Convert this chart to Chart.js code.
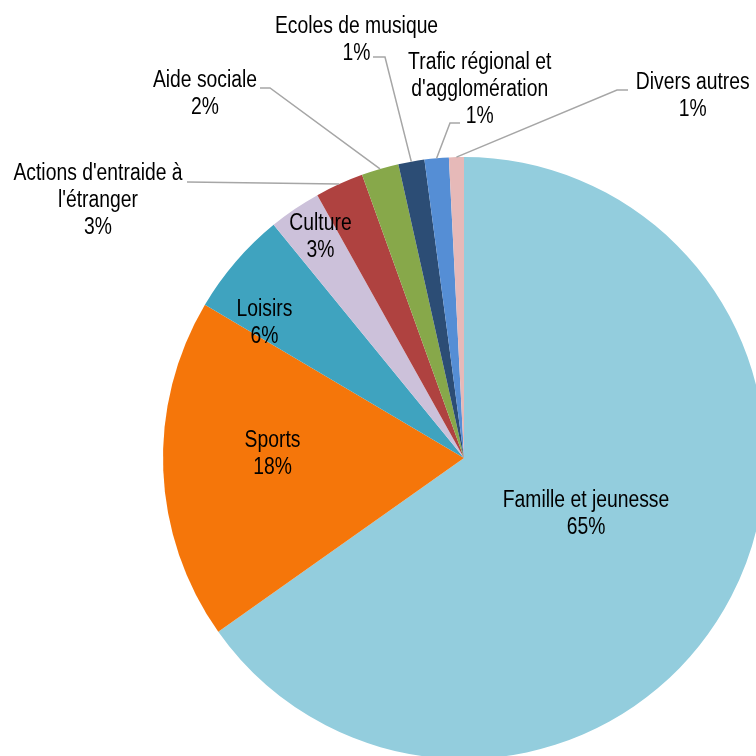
<!DOCTYPE html>
<html><head><meta charset="utf-8">
<script src="https://cdn.jsdelivr.net/npm/chart.js@4"></script>
<style>
html,body{margin:0;padding:0;overflow:hidden;background:#fff;width:756px;height:756px}
#wrap{position:absolute;left:0;top:0;width:800px;height:800px}
</style>
</head><body><div id="wrap"><canvas id="c" width="800" height="800"></canvas></div>
<script>
const categories = ["Famille et jeunesse", "Sports", "Loisirs", "Culture", "Actions d'entraide à\nl'étranger", "Aide sociale", "Ecoles de musique", "Trafic régional et\nd'agglomération", "Divers autres"];
const shares = [65.2, 18.3, 5.6, 2.8, 2.6, 2.0, 1.4, 1.3, 0.8];
const sliceColors = ["#93CDDD", "#F5760A", "#3FA3BF", "#CCC1DA", "#AF4240", "#87A84A", "#2C4D75", "#558ED5", "#E6B9B8"];

// label layout: text block centre (x) and first line middle (y), offsets from pie centre in px
const labelPos = [[122, 43], [-191.5, -17], [-199.5, -148], [-143.5, -234], [-366, -284], [-259, -377], [-107.5, -431], [15.7, -395.5], [228.7, -375.5]];
// leader line points (from label side), offsets from pie centre; ends at slice mid-arc
const leaders = [null, null, null, null, [[-277, -276]], [[-204, -370], [-194, -370]], [[-91, -401], [-79, -401]], [[-4, -335], [-14, -335]], [[164, -368], [153, -368]]];

const FONT = "23px 'Liberation Sans Narrow', 'Arial Narrow', 'Liberation Sans', sans-serif";
const NARROW = 0.84; // horizontal condensing to mimic Arial Narrow
const LINE_H = 27;

const labelPlugin = {
  id: 'labels',
  afterDatasetsDraw(chart) {
    const ctx = chart.ctx;
    const meta = chart.getDatasetMeta(0);
    const total = shares.reduce((a, b) => a + b, 0);
    ctx.save();
    meta.data.forEach((arc, i) => {
      const cx = arc.x, cy = arc.y, R = arc.outerRadius;
      const mid = (arc.startAngle + arc.endAngle) / 2;
      if (leaders[i]) {
        ctx.beginPath();
        ctx.strokeStyle = '#A6A6A6';
        ctx.lineWidth = 1.5;
        leaders[i].forEach((p, k) => {
          if (k === 0) ctx.moveTo(cx + p[0], cy + p[1]); else ctx.lineTo(cx + p[0], cy + p[1]);
        });
        ctx.lineTo(cx + R * Math.cos(mid), cy + R * Math.sin(mid));
        ctx.stroke();
      }
      const lines = categories[i].split('\n');
      lines.push(Math.round(shares[i] / total * 100) + '%');
      ctx.fillStyle = '#000';
      ctx.font = FONT;
      ctx.textAlign = 'center';
      ctx.textBaseline = 'middle';
      lines.forEach((t, k) => {
        const tx = cx + labelPos[i][0], ty = cy + labelPos[i][1] + k * LINE_H;
        ctx.save();
        ctx.translate(tx, ty);
        ctx.scale(NARROW, 1);
        ctx.fillText(t, 0, 0);
        ctx.restore();
      });
    });
    ctx.restore();
  }
};

new Chart(document.getElementById('c'), {
  type: 'pie',
  data: {
    labels: categories,
    datasets: [{ data: shares, backgroundColor: sliceColors, borderWidth: 0 }]
  },
  options: {
    responsive: false,
    animation: false,
    layout: { padding: { left: 163, top: 157, right: 35, bottom: 41 } },
    plugins: { legend: { display: false }, tooltip: { enabled: false } }
  },
  plugins: [labelPlugin]
});
</script>
</body></html>
